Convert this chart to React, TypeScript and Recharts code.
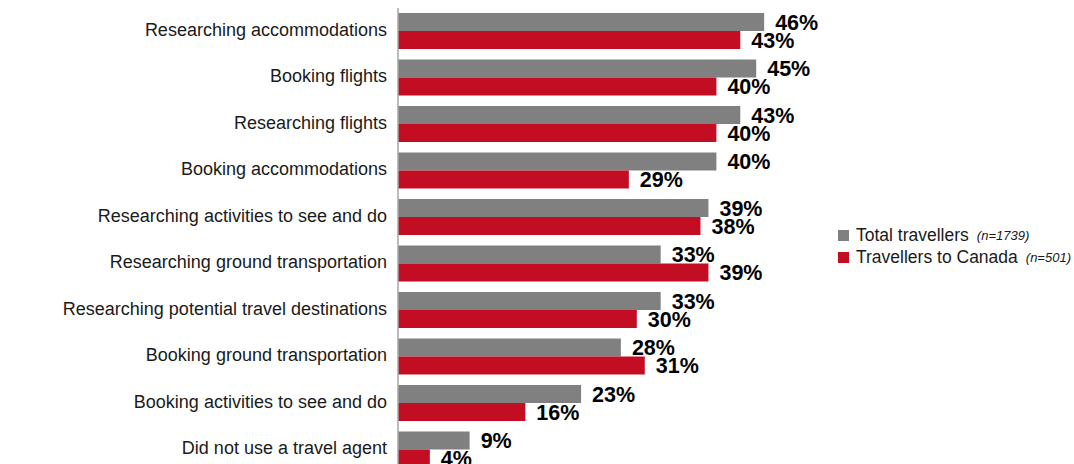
import { Bar, BarChart, LabelList, XAxis, YAxis } from 'recharts';

const categories = [
  'Researching accommodations',
  'Booking flights',
  'Researching flights',
  'Booking accommodations',
  'Researching activities to see and do',
  'Researching ground transportation',
  'Researching potential travel destinations',
  'Booking ground transportation',
  'Booking activities to see and do',
  'Did not use a travel agent',
];
const totalTravellers = [46, 45, 43, 40, 39, 33, 33, 28, 23, 9];
const travellersToCanada = [43, 40, 40, 29, 38, 39, 30, 31, 16, 4];

const GRAY = '#808080';
const RED = '#C30D23';
const FONT = '"Liberation Sans", Arial, sans-serif';

const data = categories.map((name, i) => ({
  name,
  total: totalTravellers[i],
  canada: travellersToCanada[i],
}));

function LegendBox() {
  const row = (color: string, label: string, n: string) => (
    <div style={{ display: 'flex', alignItems: 'center', height: 22 }}>
      <span
        style={{
          display: 'inline-block',
          width: 11,
          height: 11,
          background: color,
          marginRight: 7,
        }}
      />
      <span style={{ fontSize: 17.5, color: '#1a1a1a' }}>{label}</span>
      <span style={{ fontSize: 13, fontStyle: 'italic', color: '#1a1a1a', marginLeft: 8 }}>
        {n}
      </span>
    </div>
  );
  return (
    <div
      style={{
        position: 'absolute',
        left: 838,
        top: 224,
        width: 236,
        fontFamily: FONT,
      }}
    >
      {row(GRAY, 'Total travellers', '(n=1739)')}
      {row(RED, 'Travellers to Canada', '(n=501)')}
    </div>
  );
}

export default function App() {
  return (
    <div
      style={{
        position: 'absolute',
        top: 0,
        left: 0,
        width: 1074,
        height: 464,
        overflow: 'hidden',
        background: '#fff',
      }}
    >
      <BarChart
        width={1074}
        height={480}
        data={data}
        layout="vertical"
        margin={{ top: 8, right: 278, left: 0, bottom: 7 }}
        barGap={0}
        style={{ fontFamily: FONT }}
      >
        <XAxis type="number" domain={[0, 50]} hide />
        <YAxis
          type="category"
          dataKey="name"
          width={398}
          axisLine={{ stroke: '#a6a6a6', strokeWidth: 1.5 }}
          tickLine={false}
          tickSize={0}
          tickMargin={11}
          interval={0}
          tick={{ fontSize: 18, fill: '#1a1a1a', dy: -2 }}
        />
        <Bar dataKey="total" fill={GRAY} barSize={18} isAnimationActive={false}>
          <LabelList
            dataKey="total"
            position="right"
            offset={11}
            formatter={(v: number) => `${v}%`}
            style={{ fontSize: 21.5, fontWeight: 'bold', fill: '#000' }}
          />
        </Bar>
        <Bar dataKey="canada" fill={RED} barSize={18} isAnimationActive={false}>
          <LabelList
            dataKey="canada"
            position="right"
            offset={11}
            formatter={(v: number) => `${v}%`}
            style={{ fontSize: 21.5, fontWeight: 'bold', fill: '#000' }}
          />
        </Bar>
      </BarChart>
      <LegendBox />
    </div>
  );
}
